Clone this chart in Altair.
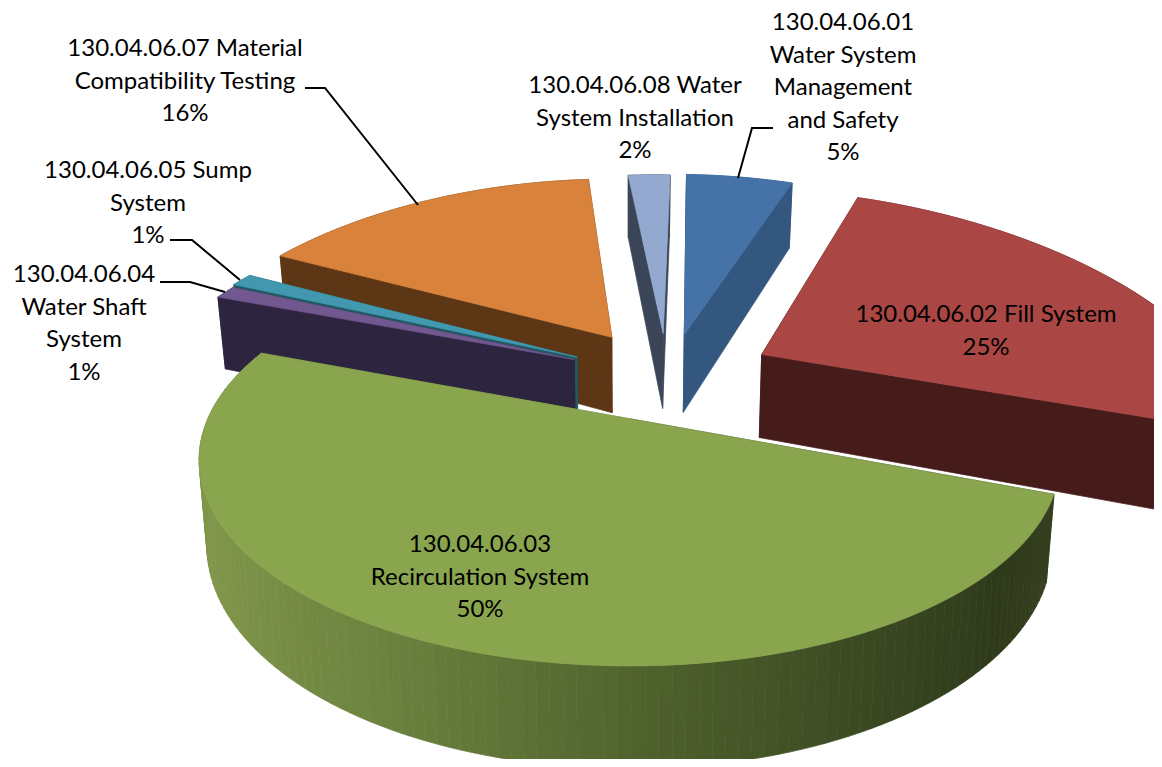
import math
import altair as alt
import pandas as pd

# ---- chart values
slice_lines = [
    ["130.04.06.01", "Water System", "Management", "and Safety"],
    ["130.04.06.02 Fill System"],
    ["130.04.06.03", "Recirculation System"],
    ["130.04.06.04", "Water Shaft", "System"],
    ["130.04.06.05 Sump", "System"],
    ["130.04.06.07 Material", "Compatibility Testing"],
    ["130.04.06.08 Water", "System Installation"],
]
shares = [5, 25, 50, 1, 1, 16, 2]
percent_labels = ["5%", "25%", "50%", "1%", "1%", "16%", "2%"]

# ---- styles and layout
top_colors = ["#4572a7", "#aa4643", "#89a54e", "#71588f", "#4198af", "#d9823b", "#93a9cf"]
wall_colors = ["#34577f", "#451c1a", None, "#2d2440", "#1f5a63", "#5c3615", "#3a4658"]
rim_radius = [1.13, 1.12, 1.0, 1.06, 1.07, 1.1, 1.12]
slice_nudge = [(0, 0), (6, -4), (-1, -2), (0, 0), (0, 0), (0, -3), (0, 0)]
depth_scale = [1.04, 1.08, 1.0, 1.0, 1.0, 1.0, 1.0]
paint_order = [6, 0, 5, 4, 3, 1, 2]
first_angle = 2.8
explode = 0.25
center_uv = (0.09, 0.225)
persp, cx, y0, a, b, depth = 0.2, 630.0, 419.0, 421.0, 197.0, 82.0
label_layout = [(843, 23), (986, 315), (480, 545), (84, 275), (148, 171), (185, 49), (635, 86)]
line_step = 32.6
leaders = [
    [(773, 128), (752, 128), (738, 178)],
    [(305, 88), (325, 88), (418, 205)],
    [(170, 240), (192, 240), (240, 280)],
    [(160, 282), (190, 282), (225, 292)],
]
FONT, FONT_SIZE = "Lato", 24


def project(u, v, down=0.0, k=None):
    w = 1.0 / (1.0 + persp * v)
    x, y = cx + a * u * w, y0 - b * v * w
    lift = max(0.0, (335.0 - y) / 155.0)
    x = 600.0 + (x - 600.0) * (1.0 - 0.066 * lift)
    y = y - 6.0 * lift
    scale = depth_scale[k] if k is not None else 1.0
    nudge = slice_nudge[k] if k is not None else (0, 0)
    x, y = x + nudge[0], y + nudge[1]
    if down:
        x = cx + (x - cx) * 0.982
        y += depth * w * scale
    return x, y


def pol(deg):
    r = math.radians(deg)
    return math.sin(r), math.cos(r)


def green_shade(x):
    stops = [(200, (128, 150, 74)), (450, (100, 122, 58)), (650, (78, 97, 44)), (1000, (47, 58, 27)), (1060, (54, 64, 32))]
    for (x1, c1), (x2, c2) in zip(stops, stops[1:]):
        if x <= x2:
            t = max(0, (x - x1) / (x2 - x1))
            return "#%02x%02x%02x" % tuple(round(p + (q - p) * t) for p, q in zip(c1, c2))
    return "#363f20"


rows = []
pid = 0


def add_poly(points, color):
    global pid
    pid += 1
    for i, (x, y) in enumerate(points + points[:1]):
        rows.append({"poly": f"p{pid:04d}", "i": i, "x": x, "y": y, "c": color})


starts, t = [], first_angle
for s in shares:
    starts.append(t)
    t += s * 3.6

for k in paint_order:
    t1 = starts[k]
    t2 = t1 + shares[k] * 3.6
    mid = (t1 + t2) / 2
    du, dv = pol(mid)
    au, av = center_uv[0] + explode * du, center_uv[1] + explode * dv
    n = max(2, int((t2 - t1) / 1.5))
    rim = []
    for j in range(n + 1):
        su, sv = pol(t1 + (t2 - t1) * j / n)
        rim.append((au + rim_radius[k] * su, av + rim_radius[k] * sv))
    wall = wall_colors[k]
    # radial walls
    for (u, v) in (rim[0], rim[-1]):
        col = wall if wall else green_shade(project(u, v, 0, k)[0])
        add_poly([project(au, av, 0, k), project(u, v, 0, k), project(u, v, 1, k), project(au, av, 1, k)], col)
    # rim wall strips
    for (u1, v1), (u2, v2) in zip(rim, rim[1:]):
        pa, pb = project(u1, v1, 0, k), project(u2, v2, 0, k)
        col = wall if wall else green_shade((pa[0] + pb[0]) / 2)
        add_poly([pa, pb, project(u2, v2, 1, k), project(u1, v1, 1, k)], col)
    # top face
    add_poly([project(au, av, 0, k)] + [project(u, v, 0, k) for u, v in rim], top_colors[k])

df = pd.DataFrame(rows)
xs = alt.Scale(domain=[8, 1154], range=[0, 1146])
ys = alt.Scale(domain=[8, 759], range=[0, 751])
X = lambda f="x": alt.X(f"{f}:Q", scale=xs, axis=None)
Y = lambda f="y": alt.Y(f"{f}:Q", scale=ys, axis=None)

pie = alt.Chart(df).mark_line(strokeWidth=0.7, clip=True, interpolate="linear", strokeJoin="round").encode(
    x=X(), y=Y(), detail="poly:N", order="i:Q",
    fill=alt.Fill("c:N", scale=None), stroke=alt.Stroke("c:N", scale=None),
)

lead_rows = [{"n": n, "i": i, "x": x, "y": y} for n, l in enumerate(leaders) for i, (x, y) in enumerate(l)]
lead = alt.Chart(pd.DataFrame(lead_rows)).mark_line(color="black", strokeWidth=2).encode(
    x=X(), y=Y(), detail="n:N", order="i:Q")

text_rows = []
for lines, pct, (lx, ly) in zip(slice_lines, percent_labels, label_layout):
    for i, s in enumerate(lines + [pct]):
        text_rows.append({"t": s, "x": lx, "y": ly + i * line_step})
txt = alt.Chart(pd.DataFrame(text_rows)).mark_text(
    font=FONT, fontSize=FONT_SIZE, color="black", align="center", baseline="middle"
).encode(x=X(), y=Y(), text="t:N")

chart = (pie + lead + txt).properties(width=1146, height=751, padding=0, background="white").configure_view(stroke=None)
chart.save("out.html", embed_options={"renderer": "svg", "actions": False})
